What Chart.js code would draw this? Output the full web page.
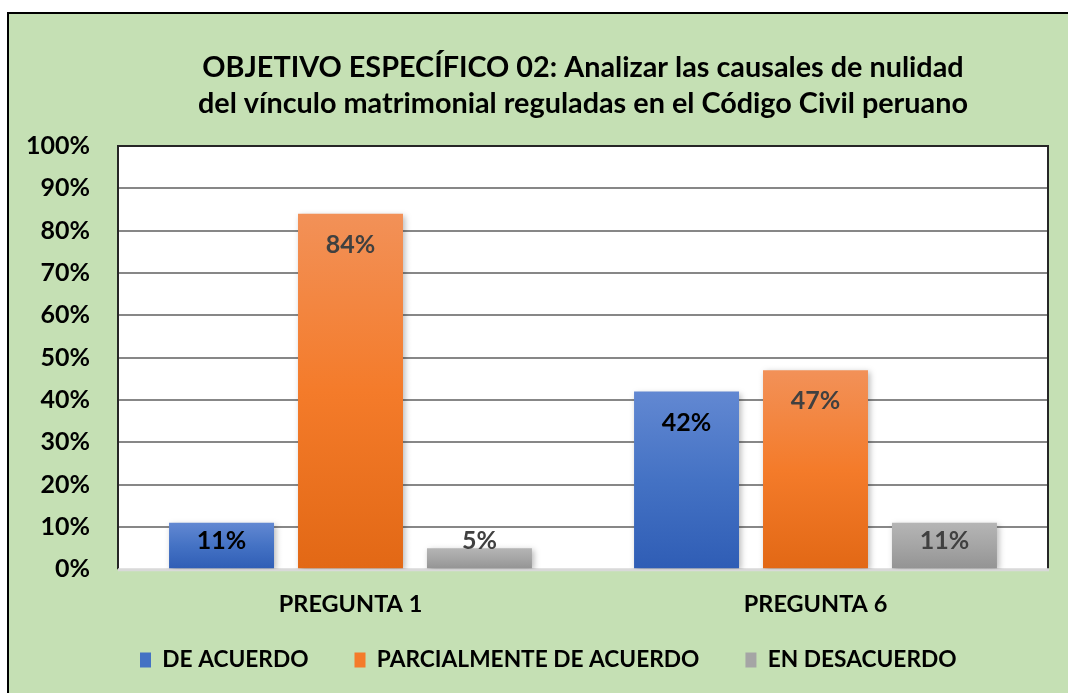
<!DOCTYPE html>
<html>
<head>
<meta charset="utf-8">
<script src="https://cdn.jsdelivr.net/npm/chart.js@4.4.1/dist/chart.umd.min.js"></script>
<style>
  html, body { margin: 0; padding: 0; background: #ffffff; }
  #wrap { width: 1068px; height: 693px; position: relative; }
</style>
</head>
<body>
<div id="wrap"><canvas id="c" width="1068" height="693"></canvas></div>
<script>
const titleLines = ['OBJETIVO ESPECÍFICO 02: Analizar las causales de nulidad', 'del vínculo matrimonial reguladas en el Código Civil peruano'];
const categories = ['PREGUNTA 1', 'PREGUNTA 6'];
const seriesNames = ['DE ACUERDO', 'PARCIALMENTE DE ACUERDO', 'EN DESACUERDO'];
const deAcuerdo = [11, 42];
const parcialmente = [84, 47];
const desacuerdo = [5, 11];
const yTicks = [0, 10, 20, 30, 40, 50, 60, 70, 80, 90, 100];

const FONT = 'Lato';
const gradStops = [
  ['#6288d2', '#4472c4', '#2f5db5'],
  ['#f29158', '#f47b2a', '#e26815'],
  ['#b5b5b5', '#a5a5a5', '#939393']
];
const solid = ['#4472c4', '#f47b2a', '#a5a5a5'];
const labelColors = ['#000000', '#404040', '#404040'];

function barFill(idx) {
  return function (ctx) {
    const chart = ctx.chart;
    if (ctx.type !== 'data' || !chart.chartArea || !chart.scales.y) return solid[idx];
    const ys = chart.scales.y;
    const top = ys.getPixelForValue(ctx.raw);
    const bottom = ys.getPixelForValue(0);
    if (!isFinite(top) || !isFinite(bottom) || top === bottom) return solid[idx];
    const g = chart.ctx.createLinearGradient(0, top, 0, bottom);
    g.addColorStop(0, gradStops[idx][0]);
    g.addColorStop(0.5, gradStops[idx][1]);
    g.addColorStop(1, gradStops[idx][2]);
    return g;
  };
}

const frame = {
  id: 'frame',
  afterLayout(chart) {
    const lg = chart.legend;
    if (!lg || !lg.lineWidths) return;
    const p = lg.options.labels.padding;
    const itemH = Math.max(lg.options.labels.font.size, lg.options.labels.boxHeight);
    const newTop = 660 - p - itemH / 2;
    const h = lg.height;
    lg.top = newTop; lg.bottom = newTop + h;
    const start = (lg.left + p + lg.right - lg.lineWidths[0]) / 2;
    const dx = 140 - start;
    lg.left += dx; lg.right += dx;
  },
  beforeDraw(chart) {
    const c = chart.ctx, a = chart.chartArea;
    c.save();
    c.fillStyle = '#ffffff';
    c.fillRect(0, 0, chart.width, chart.height);
    c.fillStyle = '#c5e0b4';
    c.fillRect(7, 12, chart.width, chart.height);
    c.strokeStyle = '#000000';
    c.lineWidth = 2;
    c.strokeRect(8, 13, chart.width + 10, chart.height + 10);
    c.fillStyle = '#ffffff';
    c.fillRect(a.left, a.top, a.right - a.left, a.bottom - a.top);
    c.restore();
  },
  beforeDatasetsDraw(chart) {
    const c = chart.ctx, a = chart.chartArea;
    c.save();
    c.strokeStyle = '#262626';
    c.lineWidth = 2;
    c.beginPath();
    c.moveTo(a.left, a.bottom);
    c.lineTo(a.left, a.top);
    c.lineTo(a.right, a.top);
    c.lineTo(a.right, a.bottom);
    c.stroke();
    c.strokeStyle = '#d9d9d9';
    c.lineWidth = 3;
    c.beginPath();
    c.moveTo(a.left, a.bottom + 0.5);
    c.lineTo(a.right + 1, a.bottom + 0.5);
    c.stroke();
    c.restore();
    c.save();
    c.shadowColor = 'rgba(0,0,0,0.28)';
    c.shadowBlur = 6;
    c.shadowOffsetX = 2;
    c.shadowOffsetY = 2;
  },
  afterDatasetsDraw(chart) {
    const c = chart.ctx;
    c.restore();
    c.save();
    c.font = 'bold 25px ' + FONT;
    c.textAlign = 'center';
    c.textBaseline = 'middle';
    chart.data.datasets.forEach((ds, di) => {
      const meta = chart.getDatasetMeta(di);
      meta.data.forEach((el, i) => {
        const cy = Math.min(el.y + 31, el.base - 27);
        c.fillStyle = labelColors[di];
        c.fillText(ds.data[i] + '%', el.x, cy);
      });
    });
    c.restore();
  }
};

new Chart(document.getElementById('c'), {
  type: 'bar',
  data: {
    labels: categories,
    datasets: [
      { label: seriesNames[0], data: deAcuerdo, backgroundColor: barFill(0) },
      { label: seriesNames[1], data: parcialmente, backgroundColor: barFill(1) },
      { label: seriesNames[2], data: desacuerdo, backgroundColor: barFill(2) }
    ]
  },
  options: {
    responsive: false,
    animation: false,
    devicePixelRatio: 1,
    categoryPercentage: 0.832,
    barPercentage: 0.814,
    layout: { padding: { left: 20, right: 20, top: 12, bottom: -15 } },
    plugins: {
      title: {
        display: true,
        text: titleLines,
        fullSize: false,
        color: '#000000',
        font: { family: FONT, size: 28.8, weight: 'bold', lineHeight: 1.25 },
        padding: { top: 38, bottom: 24 }
      },
      legend: {
        display: true,
        position: 'bottom',
        labels: {
          color: '#000000',
          font: { family: FONT, size: 22.7, weight: 'bold' },
          boxWidth: 11,
          boxHeight: 15,
          padding: 46,
          generateLabels(chart) {
            return chart.data.datasets.map((ds, i) => ({
              text: ds.label,
              fillStyle: solid[i],
              strokeStyle: solid[i],
              lineWidth: 0,
              fontColor: '#000000',
              datasetIndex: i,
              hidden: false
            }));
          }
        }
      },
      tooltip: { enabled: false }
    },
    scales: {
      x: {
        grid: { display: false },
        border: { display: false },
        ticks: {
          color: '#000000',
          font: { family: FONT, size: 23.5, weight: 'bold' },
          padding: 13
        },
        afterFit(scale) { scale.height = 60; }
      },
      y: {
        min: 0,
        max: 100,
        afterBuildTicks(scale) { scale.ticks = yTicks.map(v => ({ value: v })); },
        grid: {
          drawTicks: false,
          color: (ctx) => (ctx.tick && (ctx.tick.value === 0 || ctx.tick.value === 100)) ? 'rgba(0,0,0,0)' : '#878787',
          lineWidth: 2
        },
        border: { display: false },
        ticks: {
          color: '#000000',
          font: { family: FONT, size: 25, weight: 'bold' },
          padding: 28,
          callback: (v) => v + '%'
        },
        afterFit(scale) { scale.width = 98; }
      }
    }
  },
  plugins: [frame]
});
</script>
</body>
</html>
